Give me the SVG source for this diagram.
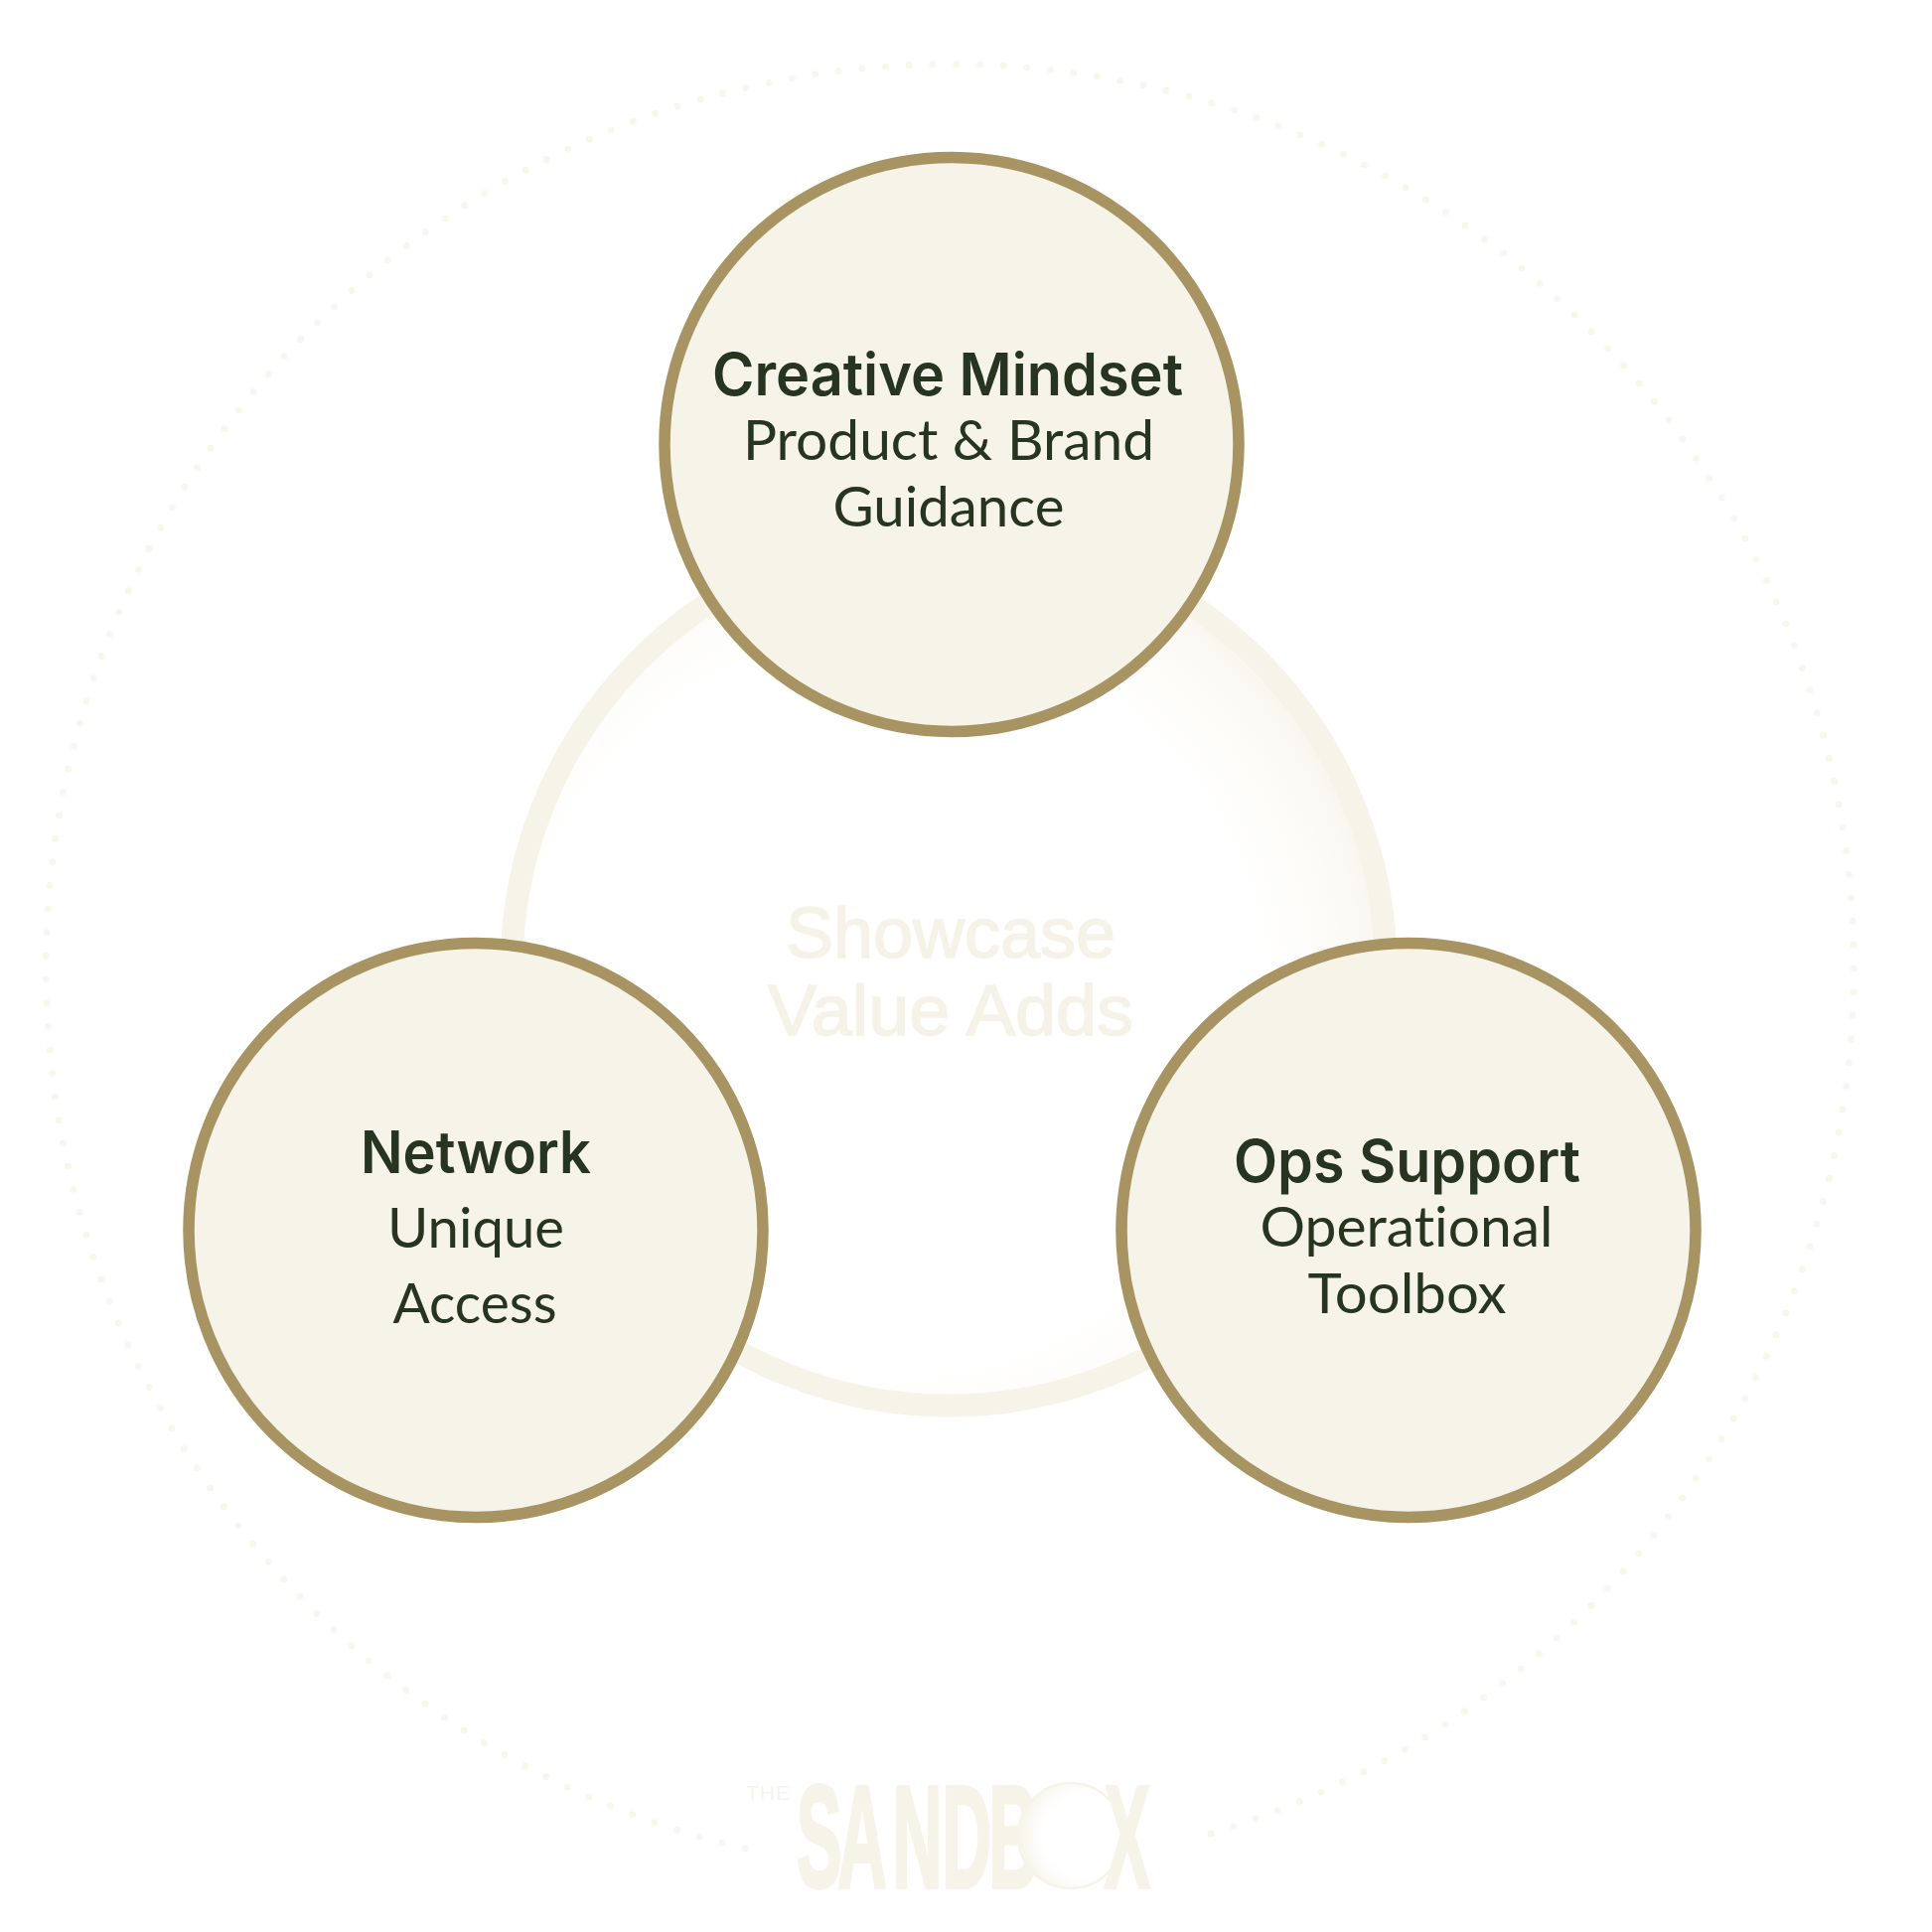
<svg xmlns="http://www.w3.org/2000/svg" width="1945" height="1945" viewBox="0 0 1945 1945">
<style>
.node{fill:#f6f4e9;stroke:#a89362;stroke-width:11.5}
.h{font-family:"Inter","Liberation Sans",sans-serif;font-weight:600;font-size:59px;fill:#27341f;text-anchor:middle}
.s{font-family:"Lato","Liberation Sans",sans-serif;font-weight:400;font-size:57px;fill:#27341f;text-anchor:middle;font-variant-ligatures:none}
.c{font-family:"Liberation Sans",Arial,sans-serif;font-size:72px;fill:#f5f3e8;stroke:#f5f3e8;stroke-width:1.6;text-anchor:middle}
.logo{font-family:"Liberation Sans",Arial,sans-serif;font-weight:700;fill:#f6f4e9}
</style>
<defs>
<radialGradient id="glow" gradientUnits="userSpaceOnUse" cx="900" cy="1010" r="510">
<stop offset="0" stop-color="#ffffff"/><stop offset="0.72" stop-color="#ffffff"/><stop offset="0.88" stop-color="#fcfbf7"/><stop offset="1" stop-color="#f7f5ec"/>
</radialGradient>
<radialGradient id="oglow" gradientUnits="userSpaceOnUse" cx="1092" cy="1848" r="68">
<stop offset="0" stop-color="#ffffff"/><stop offset="0.62" stop-color="#ffffff"/><stop offset="1" stop-color="#f6f4e9"/>
</radialGradient>
</defs>
<rect id="background" width="1945" height="1945" fill="#ffffff"/>
<path id="dot-ring" d="M750 1861A910 910 0 1 1 1198 1852" fill="none" stroke="#f8f6ed" stroke-width="7" stroke-linecap="round" stroke-dasharray="0 23.72"/>
<g id="center-ring">
<circle cx="955" cy="975" r="440" fill="url(#glow)" stroke="#f6f4e9" stroke-width="23"/>
</g>
<g id="center-label">
<text class="c" x="957" y="964">Showcase</text>
<text class="c" x="957" y="1042" textLength="368" lengthAdjust="spacingAndGlyphs">Value Adds</text>
</g>
<g id="node-creative">
<circle class="node" cx="958" cy="447.5" r="289"/>
<text class="h" x="954" y="398" textLength="474" lengthAdjust="spacingAndGlyphs">Creative Mindset</text>
<text class="s" x="955" y="463" textLength="414" lengthAdjust="spacingAndGlyphs">Product &amp; Brand</text>
<text class="s" x="955" y="530" textLength="233" lengthAdjust="spacingAndGlyphs">Guidance</text>
</g>
<g id="node-network">
<circle class="node" cx="479" cy="1238.5" r="289"/>
<text class="h" x="479" y="1181" textLength="232" lengthAdjust="spacingAndGlyphs">Network</text>
<text class="s" x="479" y="1256" textLength="178" lengthAdjust="spacingAndGlyphs">Unique</text>
<text class="s" x="478" y="1332" textLength="165" lengthAdjust="spacingAndGlyphs">Access</text>
</g>
<g id="node-ops">
<circle class="node" cx="1418" cy="1238.5" r="289"/>
<text class="h" x="1416.5" y="1190" textLength="349" lengthAdjust="spacingAndGlyphs">Ops Support</text>
<text class="s" x="1416" y="1255" textLength="295" lengthAdjust="spacingAndGlyphs">Operational</text>
<text class="s" x="1416.5" y="1322" textLength="200" lengthAdjust="spacingAndGlyphs">Toolbox</text>
</g>
<g id="logo">
<text class="logo" x="751" y="1812" font-size="21" textLength="44" style="font-weight:400">THE</text>
<g transform="translate(0 1900) scale(.47 1)">
<text class="logo" y="0" font-size="146" stroke="#f6f4e9" stroke-width="4" x="1706 1794 1912 2018 2118">SANDB</text>
</g>
<circle cx="1078" cy="1848" r="53" fill="url(#oglow)" stroke="#f6f4e9" stroke-width="2.5"/>
<g transform="translate(0 1900) scale(.47 1)">
<text class="logo" y="0" font-size="146" stroke="#f6f4e9" stroke-width="4" x="2366">X</text>
</g>
</g>
</svg>
